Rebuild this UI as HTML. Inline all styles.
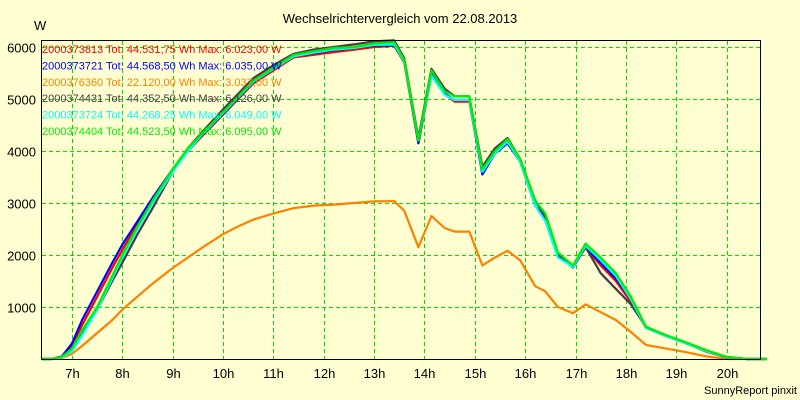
<!DOCTYPE html>
<html><head><meta charset="utf-8"><style>
html,body{margin:0;padding:0;background:#ffffd2;}
svg{display:block;font-family:"Liberation Sans",Arial,sans-serif;}
</style></head><body>
<svg id="chart" width="800" height="400" viewBox="0 0 800 400">
<rect x="0" y="0" width="800" height="400" fill="#ffffd2"/>
<text x="400" y="23" text-anchor="middle" font-size="13" fill="#000">Wechselrichtervergleich vom 22.08.2013</text>
<text x="34" y="30" font-size="13" fill="#000">W</text>
<text x="797" y="394" text-anchor="end" font-size="11" fill="#000">SunnyReport pinxit</text>
<g id="grid"></g>
<g id="ylabels"></g>
<g id="xlabels"></g>
<g id="series"></g>
<line x1="41" y1="40.5" x2="761" y2="40.5" stroke="#000"/>
<line x1="41.5" y1="40" x2="41.5" y2="359" stroke="#000"/>
<line x1="760.5" y1="40" x2="760.5" y2="359" stroke="#000"/>
<line x1="41" y1="359.5" x2="761" y2="359.5" stroke="#000"/>
<g id="legend"></g>
</svg>
<script>
const times=[6.4,6.6,6.8,7.0,7.2,7.5,7.8,8.0,8.3,8.6,9.0,9.3,9.6,10.0,10.3,10.6,11.0,11.4,11.8,12.2,12.6,13.0,13.4,13.6,13.88,14.14,14.4,14.6,14.89,15.15,15.4,15.65,15.9,16.2,16.4,16.65,16.95,17.2,17.5,17.8,18.1,18.4,18.8,19.2,19.6,20.0,20.4,20.8];
const sOrange=[0,0,20,100,250,500,750,950,1200,1450,1750,1950,2150,2400,2550,2680,2800,2900,2950,2970,3000,3030,3037,2850,2150,2750,2520,2450,2450,1800,1950,2080,1900,1400,1300,1000,880,1050,900,750,520,270,200,130,50,0,0,0];
const sRed=[0,0,40,250,650,1200,1750,2100,2600,3050,3650,4000,4300,4700,5000,5300,5550,5800,5850,5900,5950,6000,6023,5700,4150,5450,5100,4950,4950,3600,3950,4150,3800,2950,2700,2000,1780,2150,1800,1500,1100,600,440,300,140,30,0,0];
const sBlue=[0,0,50,300,750,1300,1850,2200,2650,3100,3650,4000,4320,4720,5020,5320,5580,5820,5880,5940,5980,6030,6035,5720,4150,5480,5100,4980,4980,3550,3950,4150,3800,2950,2700,1980,1760,2150,1850,1550,1150,600,440,300,150,35,0,0];
const sDark=[0,0,40,200,500,950,1500,1850,2400,2900,3600,4050,4380,4800,5100,5400,5650,5870,5950,6000,6050,6110,6126,5780,4250,5580,5200,5050,5050,3700,4050,4250,3850,3050,2750,2000,1780,2150,1650,1350,1050,620,450,310,160,40,0,0];
const sCyan=[0,0,30,150,450,950,1550,1950,2500,3000,3600,4000,4330,4730,5030,5330,5580,5820,5890,5950,5980,6040,6049,5720,4200,5450,5080,4980,4980,3600,3950,4180,3800,2950,2650,1950,1770,2180,1900,1600,1150,600,440,300,150,35,0,0];
const sGreen=[0,0,40,200,550,1000,1600,2000,2550,3050,3650,4050,4350,4750,5050,5350,5600,5850,5920,5980,6000,6070,6095,5750,4200,5550,5150,5050,5050,3650,4000,4230,3850,3050,2800,2050,1800,2220,1950,1650,1200,620,460,320,170,40,0,0];
const seriesNames=["2000373813","2000373721","2000376360","2000374431","2000373724","2000374404"];
const seriesTotals=["44.531,75","44.568,50","22.120,00","44.352,50","44.268,25","44.523,50"];
const seriesMax=["6.023,00","6.035,00","3.037,00","6.126,00","6.049,00","6.095,00"];
const yTicks=[1000,2000,3000,4000,5000,6000];
const xTicks=[7,8,9,10,11,12,13,14,15,16,17,18,19,20];

const NS="http://www.w3.org/2000/svg";
function xs(h){return 72+(h-7)*50.35;}
function ys(v){return 359-v*0.052;}
function mk(tag,attrs,parent){const e=document.createElementNS(NS,tag);for(const k in attrs)e.setAttribute(k,attrs[k]);parent.appendChild(e);return e;}

const grid=document.getElementById('grid');
const yl=document.getElementById('ylabels');
const xl=document.getElementById('xlabels');
yTicks.forEach(v=>{
  const y=Math.round(ys(v))+0.5;
  const l=mk('line',{x1:42,x2:760,y1:y,y2:y,stroke:'#00e000','stroke-dasharray':'4,3'},grid);
  
  
  const t=mk('text',{x:36,y:y+5,'text-anchor':'end','font-size':13,fill:'#000'},yl);
  t.textContent=String(v);
  
  
});
xTicks.forEach(h=>{
  const x=Math.round(xs(h))+0.5;
  const l=mk('line',{x1:x,x2:x,y1:41,y2:359,stroke:'#00e000','stroke-dasharray':'4,3'},grid);
  
  
  const t=mk('text',{x:x,y:378,'text-anchor':'middle','font-size':13,fill:'#000'},xl);
  t.textContent=h+'h';
  
  
});

const sg=document.getElementById('series');
const order=[[sOrange,'#ff8000','series-2000376360'],[sRed,'#ff0000','series-2000373813'],[sBlue,'#0000ff','series-2000373721'],[sDark,'#4a3848','series-2000374431'],[sCyan,'#00ffff','series-2000373724'],[sGreen,'#00ee00','series-2000374404']];
order.forEach(([arr,col,name])=>{
  const pts=times.map((t,i)=>xs(t).toFixed(1)+','+ys(arr[i]).toFixed(1)).join(' ');
  const p=mk('polyline',{points:pts,fill:'none',stroke:col,'stroke-width':2.2,'stroke-linejoin':'round'},sg);
  
  
});

const lg=document.getElementById('legend');
const lcols=['#ff0000','#0000ff','#ff8000','#4a3848','#00ffff','#00ee00'];
seriesNames.forEach((n,i)=>{
  const t=mk('text',{x:42,y:53+i*16.4,'font-size':11,fill:lcols[i]},lg);
  t.textContent=n+' Tot: '+seriesTotals[i]+' Wh Max: '+seriesMax[i]+' W';
  
  
});
</script>
</body></html>
